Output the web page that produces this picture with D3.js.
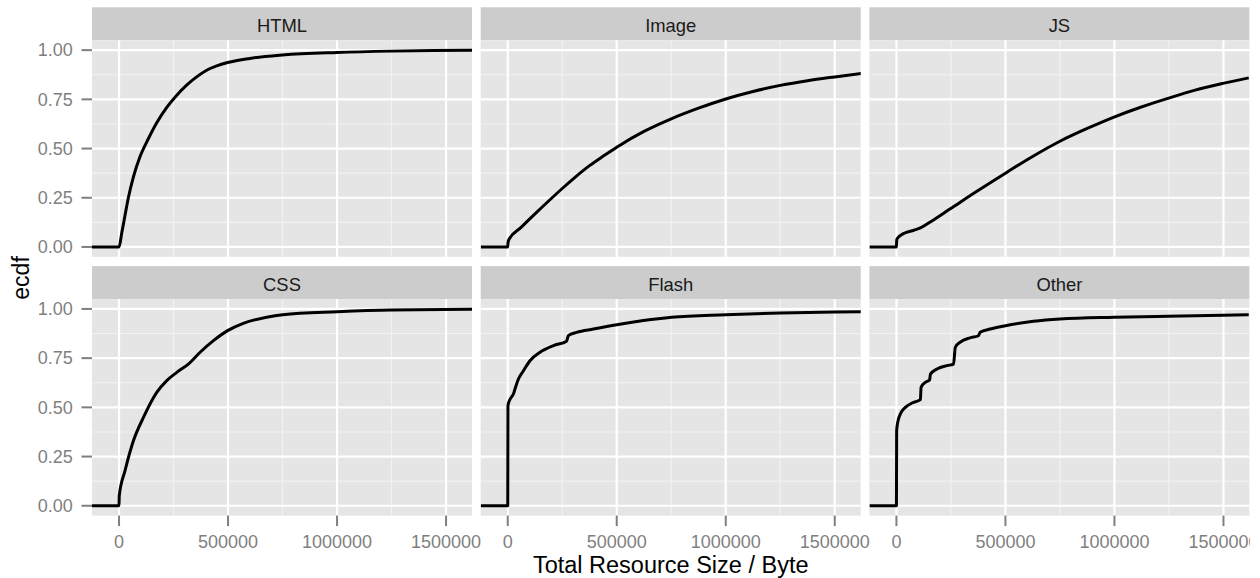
<!DOCTYPE html>
<html>
<head>
<meta charset="utf-8">
<script src="https://cdn.jsdelivr.net/npm/d3@7"></script>
<style>
  body { margin: 0; background: #fff; }
  text { font-family: "Liberation Sans", Arial, sans-serif; }
</style>
</head>
<body>
<div id="chart"></div>
<script>
// facet order, row by row
const categories = ["HTML", "Image", "JS", "CSS", "Flash", "Other"];

// [size in bytes, ecdf]
const htmlPoints = [[0, 0], [12000, 0.068], [27500, 0.161], [43000, 0.251], [66000, 0.356], [96000, 0.458],
    [135000, 0.551], [173000, 0.631], [219000, 0.709], [265000, 0.771], [310000, 0.822], [356000, 0.864],
    [402000, 0.898], [448000, 0.92], [498000, 0.937], [600000, 0.958], [750000, 0.975], [1000000, 0.988],
    [1250000, 0.995], [1440000, 0.998], [1620000, 1.0]];
const imagePoints = [[0, 0], [1000, 0.02], [5000, 0.037], [60000, 0.098], [125000, 0.168], [190000, 0.236],
    [250000, 0.297], [310000, 0.355], [375000, 0.413], [440000, 0.463], [500000, 0.507], [625000, 0.587],
    [750000, 0.651], [875000, 0.705], [1000000, 0.752], [1125000, 0.79], [1250000, 0.821], [1375000, 0.845],
    [1500000, 0.864], [1621000, 0.881]];
const jsPoints = [[0, 0], [1000, 0.03], [3000, 0.042], [33000, 0.068], [80000, 0.085], [110000, 0.097],
    [155000, 0.127], [247000, 0.194], [369000, 0.283], [500000, 0.375], [613000, 0.452], [750000, 0.537],
    [875000, 0.602], [998000, 0.66], [1120000, 0.71], [1245000, 0.755], [1370000, 0.797], [1497000, 0.831],
    [1616000, 0.859]];
const cssPoints = [[0, 0], [1000, 0.05], [27500, 0.178], [66000, 0.33], [112000, 0.449], [173000, 0.576],
    [219000, 0.636], [265000, 0.678], [318000, 0.72], [372000, 0.78], [433000, 0.839], [498000, 0.89],
    [570000, 0.927], [677000, 0.958], [751000, 0.971], [1000000, 0.986], [1250000, 0.995], [1619000, 0.998]];
const flashPoints = [[0, 0], [1000, 0.508], [7600, 0.534], [26000, 0.568], [38000, 0.61], [49000, 0.644],
    [72000, 0.686], [102000, 0.737], [148000, 0.78], [210000, 0.814], [270000, 0.836], [278000, 0.864],
    [316000, 0.881], [393000, 0.898], [500000, 0.92], [622000, 0.941], [752000, 0.958], [1000000, 0.971],
    [1252000, 0.98], [1503000, 0.985], [1621000, 0.986]];
const otherPoints = [[0, 0], [1000, 0.381], [6000, 0.424], [18000, 0.466], [41000, 0.5], [72000, 0.522],
    [110000, 0.539], [113000, 0.602], [133000, 0.627], [152000, 0.639], [156000, 0.669], [186000, 0.695],
    [232000, 0.712], [262000, 0.72], [270000, 0.805], [293000, 0.831], [338000, 0.853], [376000, 0.864],
    [384000, 0.881], [430000, 0.898], [500000, 0.915], [628000, 0.937], [750000, 0.949], [998000, 0.958],
    [1245000, 0.963], [1497000, 0.968], [1616000, 0.971]];

const seriesByCategory = [htmlPoints, imagePoints, jsPoints, cssPoints, flashPoints, otherPoints];

const xTicks = [0, 500000, 1000000, 1500000];
const xMinor = [250000, 750000, 1250000];
const yTicks = [0, 0.25, 0.5, 0.75, 1];
const yMinor = [0.125, 0.375, 0.625, 0.875];
const yTickLabels = ["0.00", "0.25", "0.50", "0.75", "1.00"];

const chartW = 1260, chartH = 578;
const marginLeft = 92, marginTop = 7.3;
const panelW = 380, panelH = 216.5, stripH = 33;
const gapX = 8.7, gapY = 9.3;

const svg = d3.select("#chart").append("svg")
    .attr("width", chartW)
    .attr("height", chartH);

const defs = svg.append("defs");
defs.append("clipPath").attr("id", "page-clip")
    .append("rect").attr("width", 1250).attr("height", chartH);
defs.append("clipPath").attr("id", "panel-clip")
    .append("rect").attr("width", panelW).attr("height", panelH);

const root = svg.append("g").attr("clip-path", "url(#page-clip)");

const x = d3.scaleLinear().domain([-124000, 1619000]).range([0, panelW]);
const y = d3.scaleLinear().domain([-0.05, 1.05]).range([panelH, 0]);

const line = d3.line()
    .curve(d3.curveMonotoneX)
    .x(d => x(d[0]))
    .y(d => y(d[1]));

categories.forEach((cat, i) => {
    const col = i % 3, row = Math.floor(i / 3);
    const gx = marginLeft + col * (panelW + gapX);
    const gy = marginTop + row * (stripH + panelH + gapY);

    const g = root.append("g").attr("transform", `translate(${gx},${gy})`);

    // strip
    g.append("rect")
        .attr("width", panelW).attr("height", stripH)
        .attr("fill", "#cccccc");
    g.append("text")
        .attr("x", panelW / 2).attr("y", 25.2)
        .attr("text-anchor", "middle")
        .attr("font-size", 18.4)
        .attr("fill", "#1a1a1a")
        .text(cat);

    const p = g.append("g").attr("transform", `translate(0,${stripH})`);
    p.append("rect")
        .attr("width", panelW).attr("height", panelH)
        .attr("fill", "#e5e5e5");

    // grid
    p.selectAll(".xminor").data(xMinor).join("line")
        .attr("x1", d => x(d)).attr("x2", d => x(d))
        .attr("y1", 0).attr("y2", panelH)
        .attr("stroke", "#f2f2f2").attr("stroke-width", 1.1);
    p.selectAll(".yminor").data(yMinor).join("line")
        .attr("y1", d => y(d)).attr("y2", d => y(d))
        .attr("x1", 0).attr("x2", panelW)
        .attr("stroke", "#f2f2f2").attr("stroke-width", 1.1);
    p.selectAll(".xmajor").data(xTicks).join("line")
        .attr("x1", d => x(d)).attr("x2", d => x(d))
        .attr("y1", 0).attr("y2", panelH)
        .attr("stroke", "#ffffff").attr("stroke-width", 2.2);
    p.selectAll(".ymajor").data(yTicks).join("line")
        .attr("y1", d => y(d)).attr("y2", d => y(d))
        .attr("x1", 0).attr("x2", panelW)
        .attr("stroke", "#ffffff").attr("stroke-width", 2.2);

    // ecdf, padded with 0 out to the left edge
    const pts = [[x.domain()[0], 0]].concat(seriesByCategory[i]);
    p.append("path")
        .datum(pts)
        .attr("clip-path", "url(#panel-clip)")
        .attr("fill", "none")
        .attr("stroke", "#000")
        .attr("stroke-width", 3)
        .attr("stroke-linejoin", "round")
        .attr("d", line);

    if (col === 0) {
        const ya = p.append("g");
        ya.selectAll("line").data(yTicks).join("line")
            .attr("x1", -10.5).attr("x2", 0)
            .attr("y1", d => y(d)).attr("y2", d => y(d))
            .attr("stroke", "#7f7f7f").attr("stroke-width", 2);
        ya.selectAll("text").data(yTicks).join("text")
            .attr("x", -19.3).attr("y", d => y(d) + 6.3)
            .attr("text-anchor", "end")
            .attr("font-size", 18)
            .attr("fill", "#7f7f7f")
            .text((d, k) => yTickLabels[k]);
    }

    if (row === 1) {
        const xa = p.append("g").attr("transform", `translate(0,${panelH})`);
        xa.selectAll("line").data(xTicks).join("line")
            .attr("x1", d => x(d)).attr("x2", d => x(d))
            .attr("y1", 0).attr("y2", 10.5)
            .attr("stroke", "#7f7f7f").attr("stroke-width", 2);
        xa.selectAll("text").data(xTicks).join("text")
            .attr("x", d => x(d)).attr("y", 32)
            .attr("text-anchor", "middle")
            .attr("font-size", 18)
            .attr("fill", "#7f7f7f")
            .text(d => d3.format("d")(d));
    }
});

// axis titles
const plotRight = marginLeft + 3 * panelW + 2 * gapX;
root.append("text")
    .attr("x", (marginLeft + plotRight) / 2).attr("y", 573)
    .attr("text-anchor", "middle")
    .attr("font-size", 23.5)
    .attr("fill", "#000")
    .text("Total Resource Size / Byte");

const midY = marginTop + (2 * (stripH + panelH) + gapY) / 2 + stripH / 2;
root.append("text")
    .attr("transform", `translate(28.5,${midY}) rotate(-90)`)
    .attr("text-anchor", "middle")
    .attr("font-size", 23)
    .attr("fill", "#000")
    .text("ecdf");
</script>
</body>
</html>
